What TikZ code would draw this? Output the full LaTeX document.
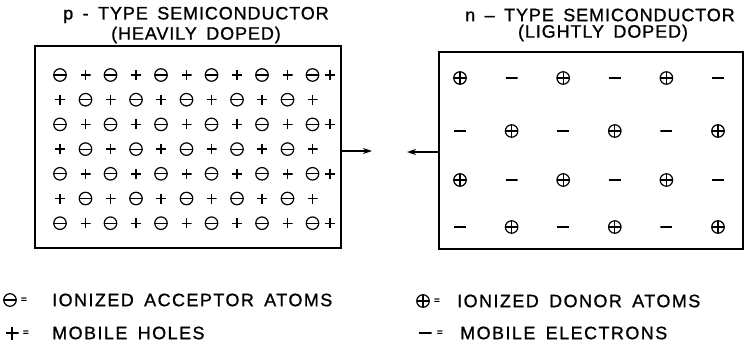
\documentclass[tikz,border=0pt]{standalone}
\usepackage{fontspec}
\newfontfamily\lettering[LetterSpace=5,WordSpace=1.6,FakeBold=1]{Liberation Sans}
\newfontfamily\keylettering[LetterSpace=8,WordSpace=1.6,FakeBold=1]{Liberation Sans}
\usetikzlibrary{positioning,arrows.meta}

\begin{document}
\begin{tikzpicture}[
    x=1pt, y=-1pt,
    txt/.style={font=\lettering\fontsize{18}{20}\selectfont, inner sep=0pt},
    keytxt/.style={font=\keylettering\fontsize{18}{20}\selectfont, inner sep=0pt, anchor=west},
    eqs/.style={font=\lettering\fontsize{10}{12}\selectfont, inner sep=0pt},
    slab/.style={draw, line width=1.3pt, inner sep=0pt},
    acc/.style={circle, draw, line width=1.2pt, minimum size=12.5pt, inner sep=0pt,
        path picture={\draw[line width=1.2pt] (path picture bounding box.west) -- (path picture bounding box.east);}},
    don/.style={circle, draw, line width=1.2pt, minimum size=12.5pt, inner sep=0pt,
        path picture={\draw[line width=1.2pt] (path picture bounding box.west) -- (path picture bounding box.east)
            (path picture bounding box.north) -- (path picture bounding box.south);}},
    hole/.style={minimum size=10pt, inner sep=0pt,
        path picture={\draw[line width=1.4pt] (path picture bounding box.west) -- (path picture bounding box.east)
            (path picture bounding box.north) -- (path picture bounding box.south);}},
    elec/.style={minimum width=12pt, minimum height=3pt, inner sep=0pt,
        path picture={\draw[line width=1.4pt] (path picture bounding box.west) -- (path picture bounding box.east);}},
    arr/.style={-{Stealth[length=9pt,width=6pt]}, line width=1.2pt}
]
\useasboundingbox (0,0) rectangle (745,348);

% titles
\node[txt] (ptitle) at (196,15) {p - TYPE SEMICONDUCTOR};
\node[txt] (pdope) at (196,35) {(HEAVILY DOPED)};
\node[txt] (ntitle) at (600,15) {n – TYPE SEMICONDUCTOR};
\node[txt] (ndope) at (603,33) {(LIGHTLY DOPED)};

% the two slabs
\node[slab, minimum width=306pt, minimum height=202pt] (pbox) at (188,147) {};
\node[slab, minimum width=304pt, minimum height=197pt] (nbox) at (591,150.5) {};

% p side: acceptors and holes
\foreach \r in {0,2,4,6} {
    \foreach \k in {0,...,5} \node[acc] at (60+50.5*\k, 75+24.7*\r) {};
    \foreach \k in {0,...,4} \node[hole] at (85.5+50.5*\k, 75+24.7*\r) {};
    \node[hole] at (330, 75+24.7*\r) {};
}
\foreach \r in {1,3,5} {
    \foreach \k in {0,...,5} \node[hole] at (60+50.5*\k, 75+24.7*\r) {};
    \foreach \k in {0,...,4} \node[acc] at (85.5+50.5*\k, 75+24.7*\r) {};
}

% n side: donors and electrons
\foreach \y in {78,180} {
    \foreach \k in {0,2,4} \node[don] at (460+51.6*\k, \y) {};
    \foreach \k in {1,3,5} \node[elec] at (460+51.6*\k, \y) {};
}
\foreach \y in {131,227} {
    \foreach \k in {0,2,4} \node[elec] at (460+51.6*\k, \y) {};
    \foreach \k in {1,3,5} \node[don] at (460+51.6*\k, \y) {};
}

% arrows
\coordinate (ptip) at (372,151);
\coordinate (ntip) at (407,152);
\draw[arr] (pbox.east |- ptip) -- (ptip);
\draw[arr] (nbox.west |- ntip) -- (ntip);

% legend
\node[acc] (kacc) at (10,300) {};
\node[eqs, right=4pt of kacc] (eacc) {=};
\node[keytxt] (lacc) at (52,300) {IONIZED ACCEPTOR ATOMS};
\node[hole, minimum size=13pt] (khole) at (12,333) {};
\node[eqs, right=4pt of khole] (ehole) {=};
\node[keytxt] (lhole) at (52,333) {MOBILE HOLES};
\node[don] (kdon) at (423,301) {};
\node[eqs, right=4pt of kdon] (edon) {=};
\node[keytxt] (ldon) at (457,301) {IONIZED DONOR ATOMS};
\node[elec, minimum width=13pt] (kelec) at (425,333) {};
\node[eqs, right=5pt of kelec] (eelec) {=};
\node[keytxt] (lelec) at (460,333) {MOBILE ELECTRONS};
\end{tikzpicture}
\end{document}
